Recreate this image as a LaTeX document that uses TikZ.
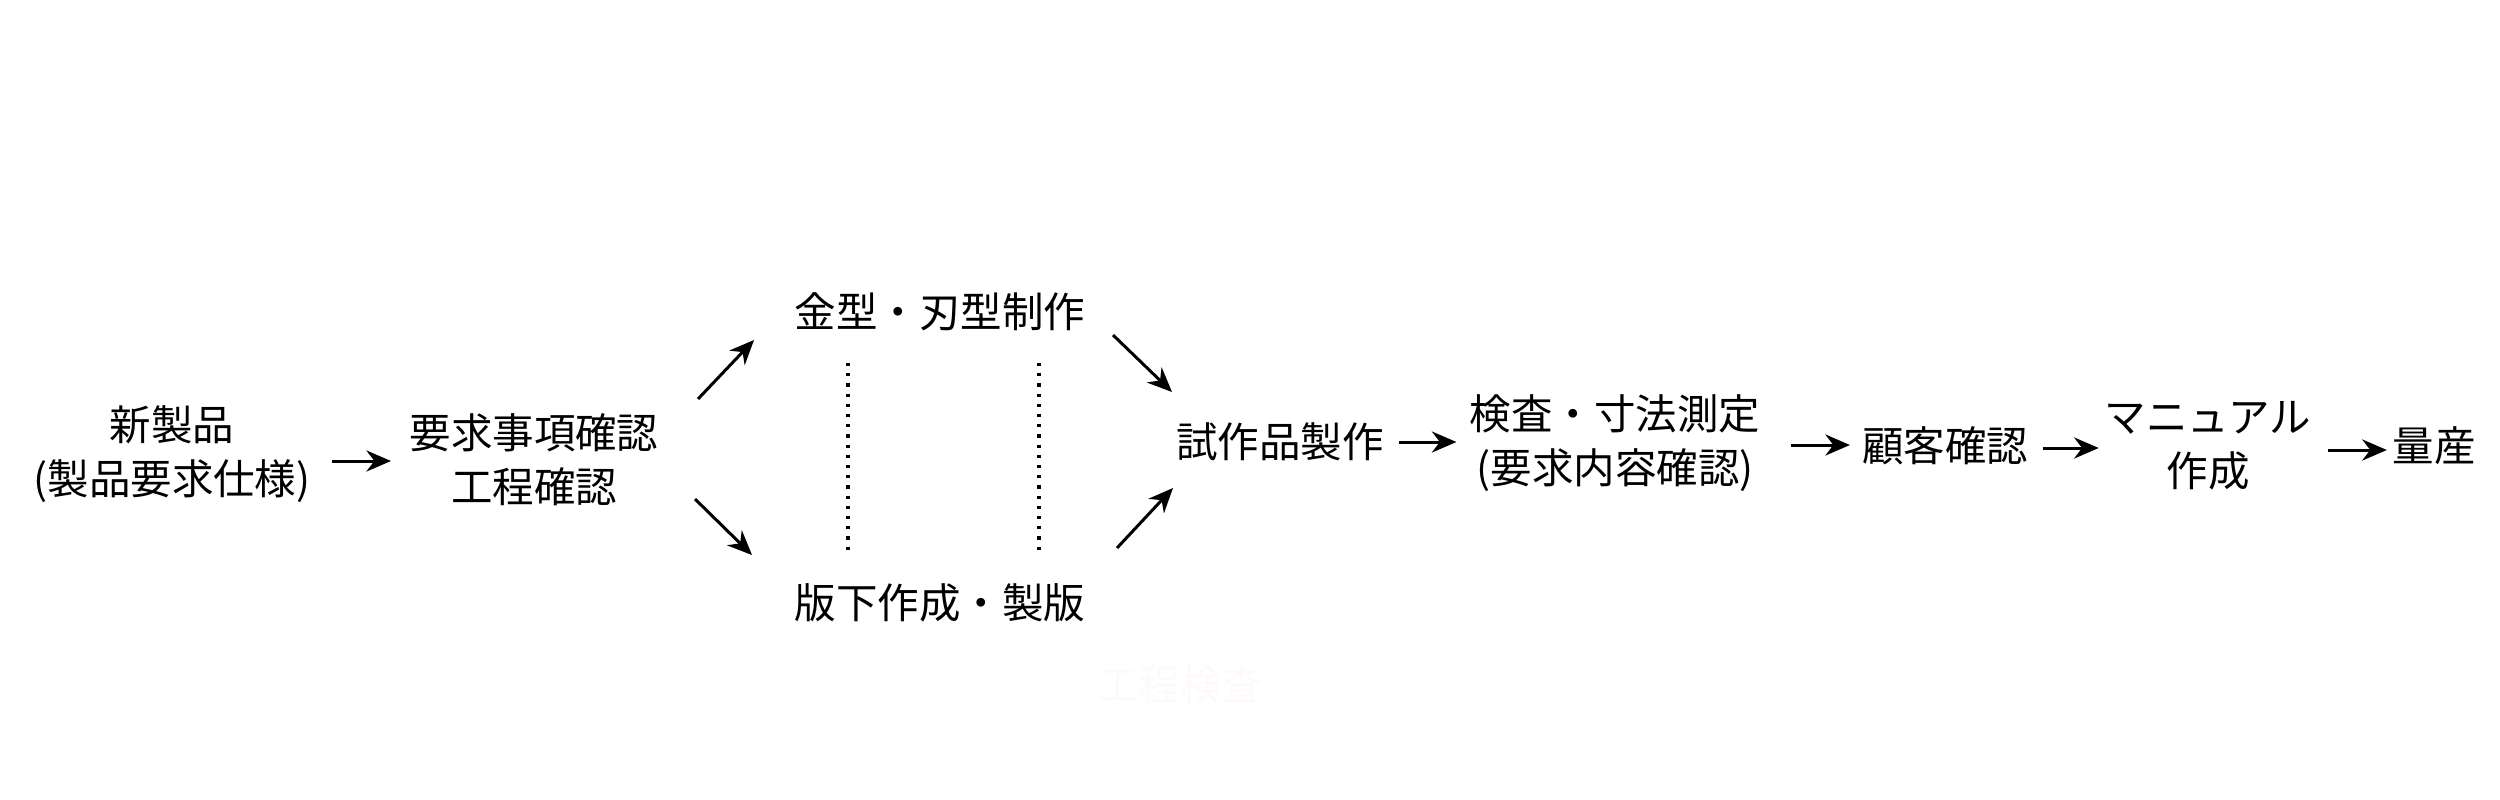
\documentclass[tikz,border=0pt]{standalone}
\usepackage{fontspec}
\setmainfont{Noto Sans CJK JP}
\usetikzlibrary{arrows.meta}
\begin{document}
\begin{tikzpicture}[x=0.01cm,y=-0.01cm,
  lbl/.style={font=\fontsize{11.8pt}{15.4pt}\selectfont,align=center,inner sep=0pt},
  arr/.style={-{Stealth[length=7pt,width=6pt]},line width=0.85pt},
  dot/.style={line width=0.9pt,dotted}]
\useasboundingbox (0,0) rectangle (2500,800);
\node[lbl] (new) at (172,454) {新製品\\(製品要求仕様)};
\node[lbl] (req) at (534,460) {要求事項確認\\工程確認};
\node[lbl] (mold) at (940,312) {金型・刃型制作};
\node[lbl] (plate) at (940,603) {版下作成・製版};
\node[lbl] (proto) at (1280,442) {試作品製作};
\node[lbl] (insp) at (1615,443) {検査・寸法測定\\(要求内容確認)};
\node[lbl] (cust) at (1945,446) {顧客確認};
\node[lbl] (man) at (2208,446) {マニュアル\\作成};
\node[lbl] (mass) at (2434,446) {量産};
\node[lbl,text=red!2!white] (hid) at (1180,685) {工程検査};
\coordinate (a1) at (332,461); \coordinate (a2) at (391,461);
\draw[arr] (a1) -- (a2);
\coordinate (b1) at (698,399); \coordinate (b2) at (754,340);
\draw[arr] (b1) -- (b2);
\coordinate (c1) at (695,499); \coordinate (c2) at (752,555);
\draw[arr] (c1) -- (c2);
\coordinate (d1) at (1113,335); \coordinate (d2) at (1172,392);
\draw[arr] (d1) -- (d2);
\coordinate (e1) at (1117,548); \coordinate (e2) at (1173,488);
\draw[arr] (e1) -- (e2);
\draw[arr] (proto.east) ++(15,0) coordinate (f1) -- ++(57,0) coordinate (f2);
\draw[arr] (insp.east) ++(30,2) coordinate (g1) -- ++(59,0) coordinate (g2);
\draw[arr] (cust.east) ++(14,2) coordinate (h1) -- ++(56,0) coordinate (h2);
\draw[arr] (man.east) ++(16,4) coordinate (i1) -- ++(59,0) coordinate (i2);
\coordinate (p1) at (848,363); \coordinate (p2) at (848,550);
\coordinate (q1) at (1039,363); \coordinate (q2) at (1039,550);
\draw[dot] (p1) -- (p2);
\draw[dot] (q1) -- (q2);
\end{tikzpicture}
\end{document}
